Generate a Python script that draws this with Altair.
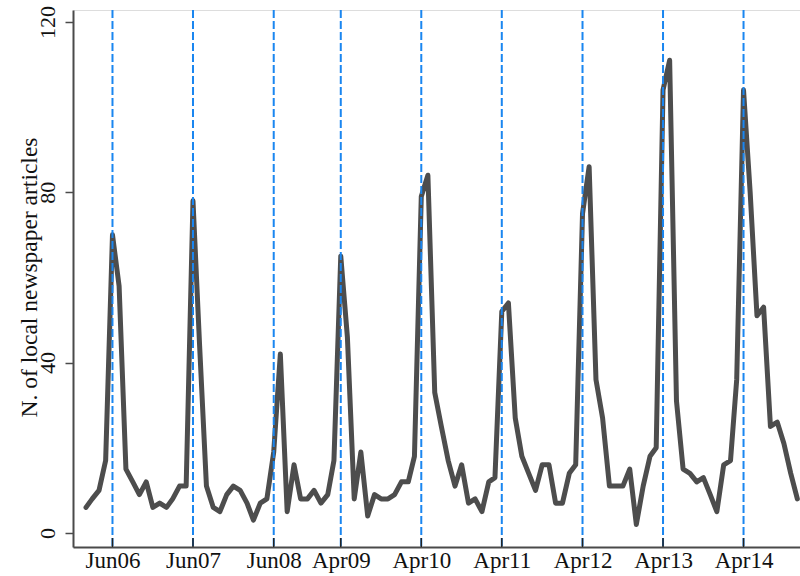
import altair as alt
import pandas as pd

# Monthly counts of local newspaper articles, Feb 2006 - Dec 2014
y2006 = [6, 8, 10, 17, 70, 58, 15, 12, 9, 12, 6]          # Feb..Dec
y2007 = [7, 6, 8, 11, 11, 78, 44, 11, 6, 5, 9, 11]
y2008 = [10, 7, 3, 7, 8, 19, 42, 5, 16, 8, 8, 10]
y2009 = [7, 9, 17, 65, 46, 8, 19, 4, 9, 8, 8, 9]
y2010 = [12, 12, 18, 79, 84, 33, 25, 17, 11, 16, 7, 8]
y2011 = [5, 12, 13, 52, 54, 27, 18, 14, 10, 16, 16, 7]
y2012 = [7, 14, 16, 75, 86, 36, 27, 11, 11, 11, 15, 2]
y2013 = [11, 18, 20, 104, 111, 31, 15, 14, 12, 13, 9, 5]
y2014 = [16, 17, 36, 104, 80, 51, 53, 25, 26, 21, 14, 8]

counts = y2006 + y2007 + y2008 + y2009 + y2010 + y2011 + y2012 + y2013 + y2014
months = pd.date_range("2006-02-01", periods=len(counts), freq="MS").strftime("%Y-%m-%d")

event_dates = ["2006-06-01", "2007-06-01", "2008-06-01", "2009-04-01", "2010-04-01",
               "2011-04-01", "2012-04-01", "2013-04-01", "2014-04-01"]
y_ticks = [0, 40, 80, 120]

series = pd.DataFrame({"date": list(months), "count": counts})
events = pd.DataFrame({"date": event_dates})

W, H = 727, 537
FONT = "Liberation Serif"

def dt(s):
    y, m, d = (int(p) for p in s.split("-"))
    return alt.DateTime(year=y, month=m, date=d, utc=True)

xscale = alt.Scale(type="utc", domain=[dt("2005-12-04"), dt("2014-12-13")])
yscale = alt.Scale(domain=[-3.3, 122.8], nice=False, zero=False)

xaxis = alt.Axis(
    values=[dt(s) for s in event_dates],
    labelExpr="utcFormat(datum.value, '%b%y')",
    ticks=False, grid=False, title=None,
    labelFont=FONT, labelFontSize=23, labelColor="#111111",
    labelPadding=2, labelFlush=False, labelOverlap=False,
    domainColor="#4a4a4a", domainWidth=2,
)
yaxis = alt.Axis(
    values=y_ticks, grid=False,
    title="N. of local newspaper articles",
    titleFont=FONT, titleFontSize=23.5, titleFontWeight="normal", titleColor="#111111",
    titleAngle=270, titleAlign="center", titleBaseline="alphabetic",
    titleX=-37, titleY=267,
    labelAngle=270, labelAlign="center", labelBaseline="alphabetic",
    labelFont=FONT, labelFontSize=22, labelColor="#111111", labelPadding=11,
    labelFlush=False,
    tickSize=8, tickWidth=1.5, tickColor="#4a4a4a",
    domainColor="#4a4a4a", domainWidth=2,
)

line = alt.Chart(series).mark_line(
    color="#4d4d4d", strokeWidth=5, strokeJoin="round", strokeCap="round"
).encode(
    x=alt.X("date:T", scale=xscale, axis=xaxis),
    y=alt.Y("count:Q", scale=yscale, axis=yaxis),
)

vlines = alt.Chart(events).mark_rule(
    color="#1a86f0", strokeWidth=2, strokeDash=[8, 3]
).encode(x=alt.X("date:T", scale=xscale))

xticks = alt.Chart(events).mark_rule(color="#222222", strokeWidth=1.5).encode(
    x=alt.X("date:T", scale=xscale),
    y=alt.value(H - 9),
    y2=alt.value(H),
)

chart = alt.layer(line, vlines, xticks).properties(
    width=W, height=H,
    autosize=alt.AutoSizeParams(type="none"),
    padding={"left": 73, "top": 10, "right": 0, "bottom": 29},
).configure_view(stroke=None).configure(background="white")

chart.save("out.html", embed_options={"renderer": "svg", "actions": False})
